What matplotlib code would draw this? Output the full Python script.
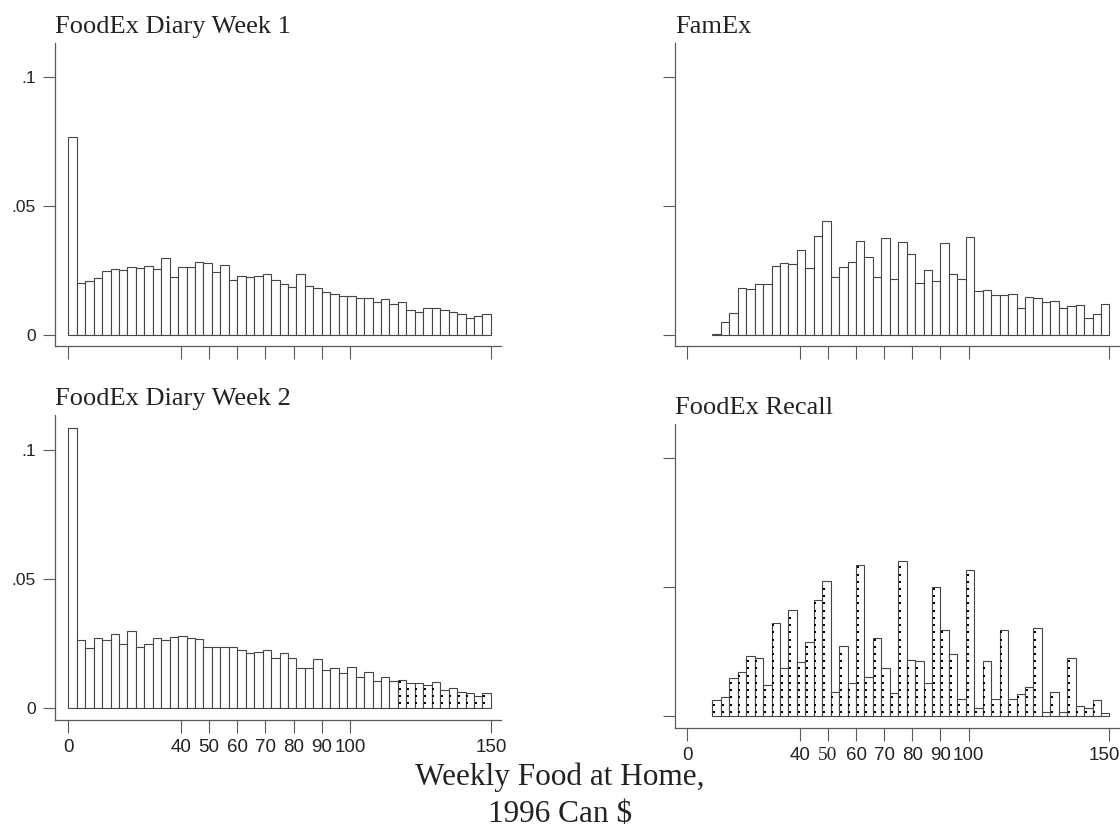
import numpy as np
import matplotlib
matplotlib.use('Agg')
import matplotlib.pyplot as plt
import matplotlib.transforms as mtransforms

# --- data (density per $3 bin) ----------------------------------------
bin_width = 3
diary_bins = np.arange(0, 150, bin_width)      # 0..147
survey_bins = np.arange(9, 150, bin_width)     # 9..147

diary_w1 = [0.0767, 0.0202, 0.0208, 0.0220, 0.0249, 0.0255, 0.0250, 0.0262, 0.0258, 0.0268,
            0.0254, 0.0299, 0.0226, 0.0264, 0.0262, 0.0284, 0.0280, 0.0242, 0.0270, 0.0211,
            0.0229, 0.0226, 0.0229, 0.0235, 0.0211, 0.0196, 0.0186, 0.0237, 0.0191, 0.0182,
            0.0165, 0.0159, 0.0152, 0.0150, 0.0142, 0.0142, 0.0128, 0.0139, 0.0119, 0.0128,
            0.0098, 0.0090, 0.0103, 0.0104, 0.0095, 0.0090, 0.0080, 0.0066, 0.0072, 0.0080]

diary_w2 = [0.1085, 0.0262, 0.0231, 0.0272, 0.0262, 0.0286, 0.0249, 0.0299, 0.0237, 0.0249,
            0.0269, 0.0264, 0.0276, 0.0280, 0.0272, 0.0268, 0.0237, 0.0234, 0.0237, 0.0234,
            0.0224, 0.0211, 0.0218, 0.0224, 0.0192, 0.0214, 0.0192, 0.0153, 0.0153, 0.0188,
            0.0146, 0.0153, 0.0133, 0.0159, 0.0118, 0.0140, 0.0104, 0.0118, 0.0104, 0.0109,
            0.0097, 0.0097, 0.0088, 0.0098, 0.0069, 0.0075, 0.0060, 0.0056, 0.0047, 0.0056]
diary_w2_dotted_from = 117   # bins from $117 up are shaded with dots

famex = [0.0003, 0.0049, 0.0084, 0.0183, 0.0177, 0.0197, 0.0197, 0.0268, 0.0280, 0.0273,
         0.0329, 0.0258, 0.0384, 0.0440, 0.0226, 0.0262, 0.0284, 0.0363, 0.0302, 0.0226,
         0.0376, 0.0215, 0.0361, 0.0315, 0.0202, 0.0250, 0.0208, 0.0355, 0.0236, 0.0215,
         0.0378, 0.0168, 0.0173, 0.0156, 0.0156, 0.0160, 0.0104, 0.0148, 0.0144, 0.0128,
         0.0130, 0.0103, 0.0113, 0.0116, 0.0066, 0.0081, 0.0119]

recall = [0.0063, 0.0076, 0.0146, 0.0171, 0.0234, 0.0227, 0.0119, 0.0359, 0.0185, 0.0411,
          0.0211, 0.0286, 0.0451, 0.0522, 0.0093, 0.0270, 0.0127, 0.0587, 0.0150, 0.0304,
          0.0185, 0.0088, 0.0601, 0.0216, 0.0212, 0.0127, 0.0501, 0.0335, 0.0242, 0.0068,
          0.0568, 0.0030, 0.0212, 0.0065, 0.0335, 0.0068, 0.0084, 0.0114, 0.0340, 0.0016,
          0.0093, 0.0016, 0.0225, 0.0041, 0.0032, 0.0063, 0.0014]

x_ticks = [0, 40, 50, 60, 70, 80, 90, 100, 150]
y_ticks = [0, 0.05, 0.1]
y_tick_labels = ['0', '.05', '.1']

titles = ['FoodEx Diary Week 1', 'FamEx', 'FoodEx Diary Week 2', 'FoodEx Recall']
x_title = 'Weekly Food at Home,\n1996 Can $'

# --- figure -----------------------------------------------------------
W, H = 1120, 839
fig = plt.figure(figsize=(W / 100, H / 100), dpi=100)

EDGE = '#454545'
AXC = '#5a5a5a'
TXT = '#222222'
SANS = 'Liberation Sans'
SERIF = 'Liberation Serif'


def px_axes(x0, y0, x1, y1):
    return fig.add_axes([x0 / W, 1 - y1 / H, (x1 - x0) / W, (y1 - y0) / H])


def draw_panel(ax, bins, vals, title, dotted_from=None, xlim=(-4.7, 153.6), ylim=(-0.0043, 0.113),
               ylabels=True, xlabels=False):
    vals = np.asarray(vals)
    ax.bar(bins, vals, width=bin_width, align='edge', facecolor='white',
           edgecolor=EDGE, linewidth=0.8, zorder=2)
    if dotted_from is not None:
        # column of small square dots inside each shaded bar
        step = 0.0028
        xs, ys = [], []
        for b, v in zip(bins, vals):
            if b < dotted_from:
                continue
            yy = np.arange(step * 0.6, v - step * 0.2, step)
            xs.extend([b + 0.6] * len(yy))
            ys.extend(yy)
        ax.scatter(xs, ys, marker='s', s=2.6, color='black', linewidths=0, zorder=3)

    ax.set_xlim(*xlim)
    ax.set_ylim(*ylim)
    for side in ('top', 'right'):
        ax.spines[side].set_visible(False)
    for side in ('left', 'bottom'):
        ax.spines[side].set_color(AXC)
        ax.spines[side].set_linewidth(0.9)

    ax.set_xticks(x_ticks)
    ax.set_yticks(y_ticks)
    ax.set_yticklabels(y_tick_labels if ylabels else [])
    ax.set_xticklabels([str(t) for t in x_ticks] if xlabels else [])
    ax.tick_params(axis='both', direction='out', length=9, width=0.8, color=AXC,
                   labelcolor=TXT)
    ax.tick_params(axis='y', labelsize=12.5, pad=5)
    ax.tick_params(axis='x', labelsize=13.5, pad=5)
    for lbl in ax.get_xticklabels() + ax.get_yticklabels():
        lbl.set_fontfamily(SANS)

    ax.set_title(title, loc='left', fontfamily=SERIF, fontsize=19, color=TXT, pad=7)


ax_tl = px_axes(55, 43, 501, 346)
draw_panel(ax_tl, diary_bins, diary_w1, titles[0])

ax_tr = px_axes(675, 43, 1119, 346)
draw_panel(ax_tr, survey_bins, famex, titles[1], xlim=(-4.3, 153.4), ylabels=False)

ax_bl = px_axes(55, 415, 501, 720)
draw_panel(ax_bl, diary_bins, diary_w2, titles[2], dotted_from=diary_w2_dotted_from,
           ylim=(-0.0048, 0.1137), xlabels=True)

ax_br = px_axes(675, 424, 1119, 728)
draw_panel(ax_br, survey_bins, recall, titles[3], dotted_from=survey_bins[0],
           xlim=(-4.3, 153.4), ylim=(-0.0046, 0.1132), ylabels=False, xlabels=True)
br_labels = ax_br.get_xticklabels()
# the original has a stray serif "50" on this axis
br_labels[x_ticks.index(50)].set_fontfamily(SERIF)
br_labels[x_ticks.index(50)].set_fontsize(14)
# keep "150" inside the right edge, as in the original
shift = mtransforms.ScaledTranslation(-5 / 100, 0, fig.dpi_scale_trans)
br_labels[x_ticks.index(150)].set_transform(br_labels[x_ticks.index(150)].get_transform() + shift)

lines = x_title.split('\n')
fig.text(560 / W, 1 - 777 / H, lines[0], ha='center', va='center',
         fontfamily=SERIF, fontsize=22.5, color=TXT)
fig.text(560 / W, 1 - 815 / H, lines[1], ha='center', va='center',
         fontfamily=SERIF, fontsize=22.5, color=TXT)

fig.savefig('out.png', dpi=100)
